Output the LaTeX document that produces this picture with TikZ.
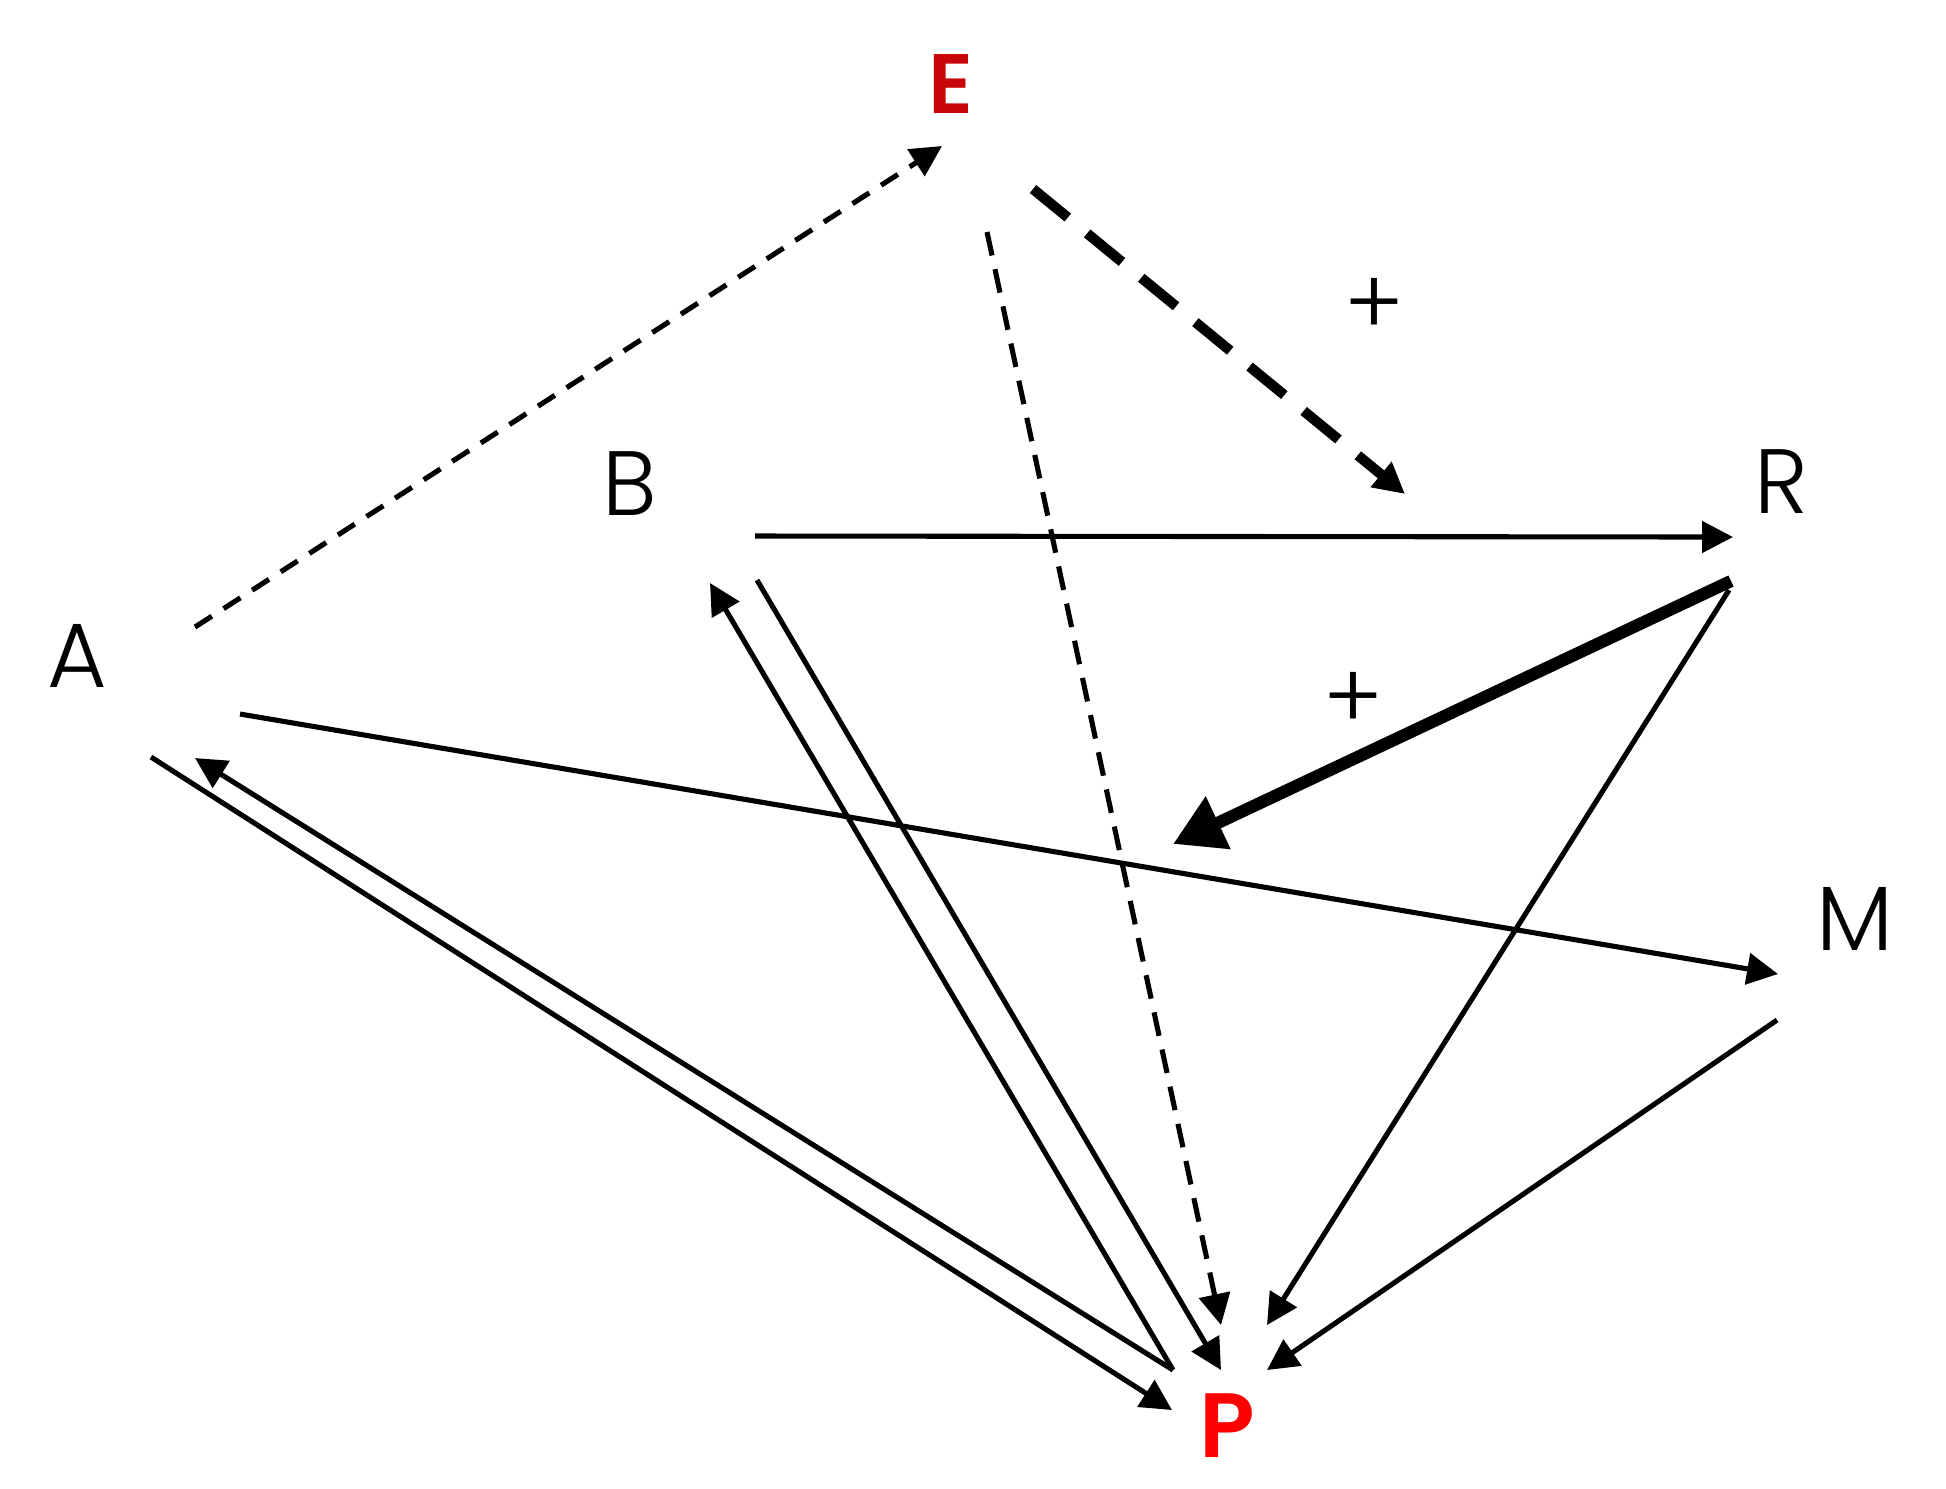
\documentclass[tikz,border=0pt]{standalone}
\usepackage{fontspec}
\setmainfont{Poppins}[UprightFont=* Light, BoldFont=* SemiBold]
\usetikzlibrary{arrows.meta,calc}
\definecolor{edark}{RGB}{200,6,10}
\definecolor{pred}{RGB}{255,0,0}

\begin{document}
\begin{tikzpicture}[
	lbl/.style={font=\fontsize{26}{30}\selectfont, inner sep=0pt},
	key/.style={font=\bfseries\fontsize{24}{28}\selectfont, inner sep=0pt},
	arr/.style={line width=1.45pt, -{Triangle[length=0.31cm,width=0.31cm]}},
	dsh/.style={arr, dash pattern=on 0.2cm off 0.14cm},
	]
	\useasboundingbox (0,0) rectangle (19.46,-14.88);
	\node[key, text=edark] (E) at (9.51,-0.84) {E};
	\node[lbl] (B) at (6.30,-4.84) {B};
	\node[lbl] (R) at (17.81,-4.82) {R};
	\node[lbl] (A) at (0.77,-6.56) {A};
	\node[lbl] (M) at (18.55,-9.19) {M};
	\node[key, text=pred, font=\bfseries\fontsize{26}{30}\selectfont] (P) at (12.27,-14.26) {P};
	\node[lbl] (plus1) at (13.74,-3.07) {+};
	\node[lbl] (plus2) at (13.53,-7.01) {+};
%
	\draw[dsh] ($(A) + (1.18,0.29)$) -- ($(E) + (-0.09,-0.62)$);
	\draw[arr, line width=2.9pt, dash pattern=on 0.45cm off 0.25cm] ($(E) + (0.82,-1.05)$) -- ($(R) + (-3.76,-0.12)$);
	\draw[dsh, dash pattern=on 0.24cm off 0.14cm] ($(E) + (0.36,-1.48)$) -- ($(P) + (-0.06,1.01)$);
	\path[arr] ($(B) + (1.25,-0.52)$) edge ($(R) + (-0.48,-0.55)$)
		($(R) + (-0.52,-1.08)$) edge ($(P) + (0.40,1.01)$)
		($(M) + (-0.78,-1.01)$) edge ($(P) + (0.40,0.56)$)
		($(A) + (1.63,-0.58)$) edge ($(M) + (-0.77,-0.55)$)
		($(A) + (0.74,-1.01)$) edge ($(P) + (-0.55,0.16)$)
		($(P) + (-0.54,0.56)$) edge ($(A) + (1.18,-1.02)$)
		($(P) + (-0.54,0.56)$) edge ($(B) + (0.80,-0.99)$)
		($(B) + (1.27,-0.96)$) edge ($(P) + (-0.06,0.56)$);
	\draw[line width=3.5pt, -{Triangle[length=0.5cm,width=0.55cm]}] ($(R) + (-0.50,-0.99)$) -- ($(R) + (-6.08,-3.62)$);
\end{tikzpicture}
\end{document}
